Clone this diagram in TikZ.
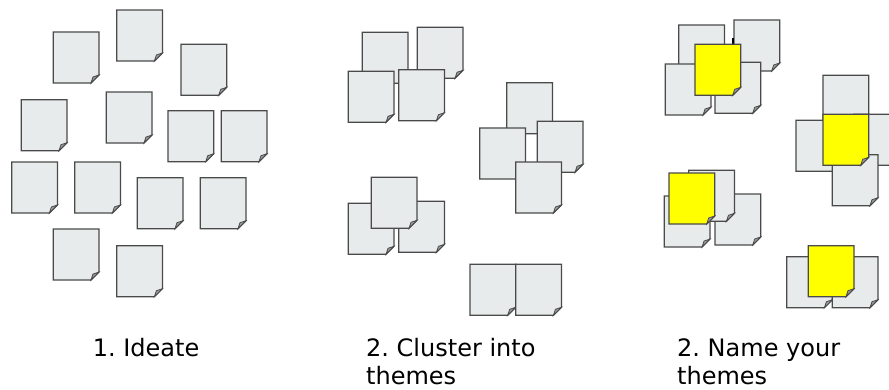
\documentclass[tikz,border=0pt]{standalone}
\usepackage{fontspec}
\setmainfont{DejaVu Sans}
\frenchspacing
\definecolor{notefill}{HTML}{E8EBEC}
\definecolor{noteline}{HTML}{4A4A4A}
\definecolor{foldfill}{HTML}{9A9C9E}
\definecolor{stickyyellow}{HTML}{FFFF00}
\newcommand\nw{45.7pt}
\newcommand\nh{51pt}
\newcommand\nf{8pt}
\newcommand\stickynote[3][notefill]{%
  \begin{scope}[shift={(#2pt,-#3pt)}]
    \filldraw[notebox, fill=#1] (0,0) -- (\nw,0) -- (\nw,-\nh+\nf) -- (\nw-\nf,-\nh) -- (0,-\nh) -- cycle;
    \filldraw[foldst] (\nw,-\nh+\nf) -- (\nw-\nf,-\nh) -- (\nw-0.75*\nf,-\nh+0.75*\nf) -- cycle;
  \end{scope}}
\tikzset{
  notebox/.style={draw=noteline, line width=1.2pt, line join=miter},
  foldst/.style={draw=noteline, line width=0.8pt, fill=foldfill},
  lbl/.style={font=\fontsize{24}{28}\selectfont\frenchspacing, anchor=base west, inner sep=0pt, text=black}
}
\begin{document}
\begin{tikzpicture}
\useasboundingbox (0,0) rectangle (889pt,-389pt);
\fill[white] (0,0) rectangle (889pt,-389pt);
% Panel 1: Ideate
\stickynote{53.3}{32}
\stickynote{116.7}{10}
\stickynote{181}{44.3}
\stickynote{21.3}{99.7}
\stickynote{106.3}{92}
\stickynote{168}{110.7}
\stickynote{221.3}{110.7}
\stickynote{11.7}{162}
\stickynote{74.7}{162}
\stickynote{137.3}{177.7}
\stickynote{200.3}{177.7}
\stickynote{53.3}{229}
\stickynote{116.7}{245.7}
% Panel 2: Cluster
\stickynote{362.3}{32.3}
\stickynote{417.3}{27.3}
\stickynote{348.3}{71.3}
\stickynote{398.7}{69.7}
\stickynote{506.7}{82.7}
\stickynote{479.7}{128}
\stickynote{537.3}{121.3}
\stickynote{515.7}{162}
\stickynote{348.3}{203.3}
\stickynote{398.7}{201.3}
\stickynote{371.3}{177.3}
\stickynote{470}{264.3}
\stickynote{515.7}{264.3}
% Panel 3: Name
\stickynote{678.7}{25}
\stickynote{734}{20}
\stickynote{665.3}{64}
\stickynote{715}{62.3}
\fill[black] (731.6pt,-38.3pt) rectangle (734pt,-44.3pt);
\stickynote[stickyyellow]{695}{44.3}
\begin{scope}
\clip (0,0) rectangle (889pt,-389pt);
\stickynote{823}{75.3}
\stickynote{796}{120.3}
\stickynote{853.6}{114.3}
\stickynote{832.3}{154.7}
\stickynote[stickyyellow]{823}{114.3}
\end{scope}
\stickynote{664.3}{196}
\stickynote{715}{194}
\stickynote{688.7}{170.3}
\stickynote[stickyyellow]{669}{173}
\stickynote{786.7}{256.7}
\stickynote{832.3}{256.7}
\stickynote[stickyyellow]{808.3}{245.7}
% Labels
\node[lbl] (l1) at (92.7pt,-356.5pt) {1. Ideate};
\node[lbl] (l2a) at (366pt,-356.5pt) {2. Cluster into};
\node[lbl] (l2b) at (366pt,-384.5pt) {themes};
\node[lbl] (l3a) at (677pt,-356.5pt) {2. Name your};
\node[lbl] (l3b) at (677pt,-384.5pt) {themes};
\end{tikzpicture}
\end{document}
